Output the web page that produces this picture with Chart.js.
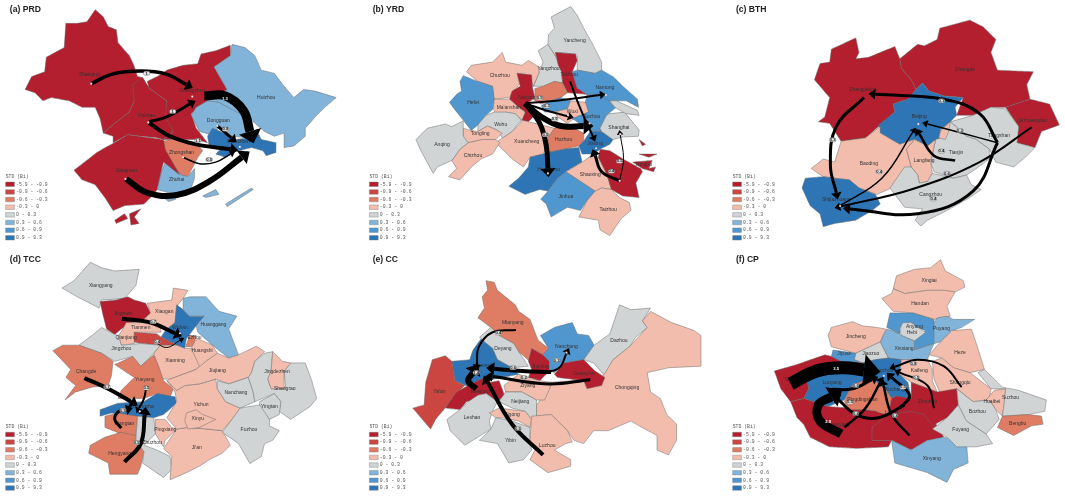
<!DOCTYPE html>
<html>
<head>
<meta charset="utf-8">
<script src="https://cdn.jsdelivr.net/npm/chart.js@4"></script>
<style>
html, body { margin: 0; padding: 0; background: #fff; overflow: hidden; }
#page { position: relative; width: 1065px; height: 496px; }
canvas { position: absolute; }
</style>
</head>
<body>
<div id="page"></div>
<script>
// class colours, low to high STD
const binColors = ["#b31f2e", "#cb4640", "#de7d63", "#f3bdae", "#d0d4d4", "#82b3d8", "#5197cf", "#2e75b6"];
const binLabels = ["-5.9 - -0.9", "-0.9 - -0.6", "-0.6 - -0.3", "-0.3 - 0", "0 - 0.3", "0.3 - 0.6", "0.6 - 0.9", "0.9 - 9.3"];

// (a) PRD
const prdBins = [0, 0, 0, 5, 5, 7, 2, 5, 5, 0, 0, 0, 5, 5];
const prdShapes = [
  [280,18,305,40,320,70,345,80,350,120,385,160,398,188,410,225,425,228,445,260,400,300,385,335,340,370,305,400,295,355,280,320,240,320,200,300,145,290,120,300,95,275,65,265,85,225,125,210,130,165,185,135,190,60,225,60,255,55],
  [425,228,395,250,400,300,385,335,340,370,305,400,335,410,335,430,380,405,420,410,470,415,490,420,520,395,500,350,500,300,445,260],
  [695,128,695,160,645,195,685,265,625,300,575,340,590,385,625,430,590,420,490,420,520,395,495,350,500,300,445,260,440,240,470,225,500,205,550,190,595,185,605,155,650,145],
  [700,125,740,135,770,160,790,205,830,215,860,255,890,290,920,265,955,270,1020,290,985,320,960,345,925,385,925,410,890,440,860,445,860,400,830,410,800,395,760,360,745,350,700,335,660,305,625,300,685,265,645,195,695,160],
  [625,300,660,305,705,330,745,350,760,380,770,410,745,415,700,410,660,385,635,405,600,395,575,345,590,320],
  [640,385,665,395,690,410,710,420,750,415,780,400,790,420,835,430,835,460,805,470,795,455,760,445,700,460,680,475,650,465,670,445,630,440,625,410],
  [490,425,530,415,590,430,610,455,595,475,565,535,540,530,510,480,490,450],
  [495,490,520,500,545,530,565,535,585,510,585,540,575,570,525,590,470,575,480,530],
  [490,600,525,595,528,605,505,612],
  [335,432,380,405,490,420,495,450,540,530,490,490,480,530,470,575,460,590,430,620,370,625,335,640,310,600,280,560,240,545,215,515,260,480,285,460,320,440],
  [340,670,370,650,380,665,345,680],
  [385,650,420,635,400,660,415,680,390,685],
  [610,595,650,575,660,590,620,600],
  [680,620,760,570,765,575,685,628]
];
const prdNames = ["Zhaoqing", "Guangzhou", "Foshan", "Dongguan", "Shenzhen", "Zhongshan", "Zhuhai", "Jiangmen", "Huizhou"];
const prdNameX = [262, 578, 438, 658, 720, 545, 530, 375, 805];
const prdNameY = [220, 268, 345, 360, 428, 460, 545, 515, 290];
const prdFlows = [
  [268,247,330,218,420,208,500,218,560,250],
  [615,285,680,285,735,330,755,395],
  [445,365,500,350,570,310],
  [445,368,510,410,590,435,695,450],
  [655,378,698,415],
  [550,475,600,495,650,490,695,465],
  [375,542,440,585,530,592,630,550,730,475]
];
const prdFlowSizes = [3.5, 9, 3, 4, 3, 1.5, 6];
const prdFlowText = ["1", "1.3", "1", "1.1", "0.8", "0.5"];
const prdFlowX = [438, 678, 518, 595, 680, 630];
const prdFlowY = [215, 295, 333, 423, 388, 482];
const prdDots = [268,247,578,287,443,367,655,378,724,443,550,475,373,542];

// (b) YRD
const yrdBins = [4, 4, 0, 6, 3, 6, 0, 2, 3, 6, 3, 6, 3, 4, 3, 3, 4, 2, 7, 7, 4, 3, 0, 6, 3, 0, 0, 0, 4];
const yrdShapes = [
  [650,8,670,35,690,75,715,120,745,180,745,205,725,215,670,205,670,160,665,155,605,150,605,165,580,125,582,95,600,75,590,40],
  [580,125,605,165,622,210,625,245,600,240,565,255,535,255,552,215,565,180,550,145],
  [603,150,665,155,670,175,655,210,670,260,700,280,640,275,625,245,622,210,612,190],
  [670,205,725,215,745,205,780,225,810,255,855,295,858,320,820,300,780,300,760,305,740,280,700,280,670,260,655,210],
  [440,150,450,180,500,190,520,175,552,195,552,215,535,255,510,215,485,215,495,245,460,290,415,295,410,255,365,240,330,210,345,190,410,180],
  [320,222,365,240,410,255,415,295,412,325,390,345,365,375,345,392,320,360,300,335,278,305,300,280,315,270,310,240],
  [485,215,530,220,533,260,540,290,515,310,535,325,540,345,520,365,500,360,510,335,490,320,462,295,470,270,495,255],
  [540,262,565,255,600,240,625,245,640,275,620,290,590,300,560,310,540,300],
  [415,295,462,295,490,320,510,335,500,360,480,340,450,335,425,350,412,325],
  [590,300,620,290,650,300,640,325,600,335,570,335,560,315],
  [650,300,700,305,705,335,660,355,640,370,610,350,600,335,640,325],
  [700,280,740,280,790,320,760,345,740,385,745,395,710,395,690,380,655,355,705,335,695,305],
  [500,360,520,365,560,375,600,385,580,415,580,440,565,465,525,475,505,505,470,480,450,460,420,430,440,415,470,395,495,370],
  [415,335,450,335,480,340,498,360,470,395,440,415,425,390,395,378,365,395,365,375,390,345],
  [320,385,345,392,365,395,395,378,440,400,420,420,380,420,335,430,320,410],
  [335,430,380,420,420,420,432,430,410,465,375,480,345,505,310,545,275,535,300,510,285,485,310,450],
  [265,372,285,380,320,362,320,385,320,410,335,430,310,450,285,485,240,505,228,525,190,455,175,420,210,385],
  [600,385,640,375,690,400,690,425,675,440,630,450,580,460,580,415],
  [580,460,630,450,675,445,685,490,635,520,610,540,580,580,555,575,510,590,460,565,490,540,520,505,525,475,565,465],
  [710,395,745,395,780,420,770,435,740,450,720,465,685,465,675,440,690,425],
  [770,340,815,335,860,390,858,410,810,412,780,420,745,395,740,385,760,345],
  [720,465,735,475,760,525,775,575,745,570,725,580,680,550,635,520,685,490],
  [740,450,770,455,810,480,865,510,870,520,850,555,860,600,810,595,775,575,760,525,735,475],
  [610,540,635,520,680,550,725,580,700,610,680,640,640,630,590,660,575,620,558,605,580,580],
  [725,580,745,570,775,575,800,600,830,615,835,640,805,665,770,718,740,700,735,670,675,660,700,610],
  [840,490,900,485,890,510,910,505,905,520,870,510],
  [860,465,915,465,890,475],
  [860,420,880,435,870,440],
  [770,300,790,300,855,330,860,345,820,340,785,320]
];
const yrdNames = ["Yancheng", "Yangzhou", "Taizhou", "Nantong", "Chuzhou", "Hefei", "Nanjing", "Ma'anshan", "Wuxi", "Suzhou", "Xuancheng", "Wuhu", "Tongling", "Chizhou", "Anqing", "Huzhou", "Hangzhou", "Jiaxing", "Shanghai", "Shaoxing", "Ningbo", "Jinhua", "Taizhou"];
const yrdNameX = [662, 582, 645, 755, 432, 350, 515, 460, 655, 715, 515, 435, 372, 350, 255, 628, 582, 725, 798, 710, 875, 635, 765];
const yrdNameY = [115, 200, 218, 260, 222, 306, 289, 320, 332, 350, 425, 373, 403, 470, 437, 420, 512, 433, 383, 530, 497, 598, 637];
const yrdFlows = [
  [510,308,620,298,740,282],
  [510,308,575,330,642,348],
  [510,308,560,350,620,378,690,378],
  [510,308,555,370,575,440,580,510],
  [648,240,680,325,718,410],
  [800,548,745,520,725,470],
  [800,548,812,480,802,405]
];
const yrdFlowSizes = [2, 2, 6, 5, 2, 3, 1];
const yrdFlowText = ["0.5", "0.3", "0.9", "0.5", "0.4", "0.5"];
const yrdFlowX = [555, 577, 601, 572, 775, 800];
const yrdFlowY = [291, 316, 357, 405, 518, 487];
const yrdDots = [758,282,642,345,708,370,580,525,728,447,802,403,800,548];

// (c) BTH
const bthBins = [0, 0, 0, 4, 7, 4, 3, 3, 3, 4, 7];
const bthShapes = [
  [555,170,610,125,630,130,670,110,678,75,770,50,810,70,850,110,835,150,855,205,965,210,945,250,955,295,880,320,835,320,780,345,730,345,750,290,690,285,645,270,625,245,605,265,590,235,560,200],
  [345,140,420,105,430,150,420,170,460,165,540,132,555,170,560,200,590,235,605,265,580,295,535,310,540,335,495,375,450,415,375,425,340,370,305,365,325,350,340,290,293,235,310,185,340,180],
  [880,320,955,295,1015,310,1045,375,990,395,970,445,915,430,920,380],
  [835,320,880,325,920,380,915,430,970,445,940,475,905,505,850,490,830,450,790,420,760,410,730,380,710,365,780,345],
  [625,245,645,270,690,285,750,290,725,320,730,345,710,365,680,390,675,420,640,440,600,420,555,435,495,400,490,375,540,335,535,310,580,295,605,265],
  [710,365,760,410,790,420,830,450,830,480,790,510,760,530,720,540,660,520,650,490,665,420,680,415,680,390],
  [680,395,710,365,705,395,695,420,675,415],
  [600,420,640,440,665,420,650,490,655,525,640,550,615,555,610,530,590,505,575,450],
  [495,380,495,400,555,435,600,420,575,450,590,505,570,510,530,570,485,590,430,570,400,545,355,540,320,535,283,510,320,480,355,490,375,425,450,415],
  [570,505,590,505,610,530,615,555,640,550,655,525,720,540,760,530,775,560,805,575,770,600,700,640,640,670,620,688,602,670,625,635,570,630,525,570],
  [320,535,355,540,400,545,430,570,480,590,495,620,470,640,420,670,355,680,320,690,310,650,280,625,255,570,265,540]
];
const bthNames = ["Chengde", "Zhangjiakou", "Qinhuangdao", "Tangshan", "Beijing", "Tianjin", "Langfang", "Baoding", "Cangzhou", "Shijiazhuang"];
const bthNameX = [755, 442, 962, 860, 615, 728, 630, 460, 650, 360];
const bthNameY = [204, 265, 362, 409, 350, 462, 485, 495, 590, 605];
const bthFlows = [
  [855,430,800,340,690,295,480,280],
  [855,430,745,400,640,372],
  [725,485,660,470,615,403],
  [855,430,780,580,610,650,402,635],
  [960,382,800,490,590,575,372,628],
  [445,290,360,380,342,500,360,585],
  [372,625,500,540,595,397]
];
const bthFlowSizes = [3, 1.5, 2.5, 3, 2, 3, 1.5];
const bthFlowText = ["0.1", "0.3", "0.4", "0.6", "0.4", "0.3", "0.4"];
const bthFlowX = [683, 740, 683, 700, 658, 349, 492];
const bthFlowY = [300, 392, 456, 525, 604, 421, 520];
const bthDots = [612,372,372,626];

// (d) TCC
const tccBins = [4, 0, 3, 7, 5, 3, 1, 2, 3, 4, 3, 2, 2, 7, 2, 2, 4, 3, 3, 3, 3, 3, 4, 4, 3, 4, 4];
const tccShapes = [
  [265,38,300,55,340,65,415,60,405,110,370,150,300,155,292,180,225,145,178,118,215,95],
  [295,160,345,155,380,145,400,155,435,165,450,195,420,225,390,225,360,245,340,262,315,245,305,205],
  [520,118,565,125,550,150,530,175,525,225,495,250,480,235,450,235,420,225,450,195,440,165,515,155],
  [530,170,550,185,570,205,615,205,590,235,560,275,555,305,530,295,482,270,495,250,525,225],
  [550,150,570,145,620,145,660,190,715,205,690,245,720,325,690,335,640,295,595,255,590,235,615,205,570,205,550,185],
  [375,225,420,225,480,235,482,255,400,255,400,290,360,295,352,265,365,245],
  [400,255,470,260,482,270,530,295,480,295,420,290,400,285],
  [570,265,590,265,585,290,575,300,558,300],
  [585,285,595,275,640,295,655,320,620,345,600,365,560,325,575,305],
  [300,240,340,262,352,265,360,295,420,290,480,295,460,320,420,360,395,330,340,345,300,320,230,295,270,265],
  [480,295,530,295,555,305,575,305,600,360,590,370,510,400,485,400,465,340,460,320],
  [180,295,230,295,300,320,335,345,330,390,320,420,270,425,220,440,187,465,220,420,190,395,205,370,150,312],
  [395,330,420,360,460,325,475,360,490,405,520,430,510,455,470,445,430,460,350,460,360,435,400,395,340,355],
  [470,445,525,455,530,475,490,510,460,520,410,515,380,515,330,505,295,515,295,495,350,475,430,470],
  [310,515,350,505,410,515,405,575,360,570,310,550],
  [310,580,360,565,405,575,415,605,430,625,420,670,410,695,325,695,320,660,260,630,265,605],
  [410,515,460,520,465,570,430,605,470,620,510,640,515,680,490,705,425,660,430,625,405,590],
  [465,525,495,525,515,550,530,555,495,590,490,610,465,570],
  [530,555,565,550,625,555,670,560,695,605,670,630,630,650,600,670,560,690,510,712,515,640,490,615,520,570],
  [500,405,530,435,555,420,600,415,650,400,655,430,680,470,725,490,700,525,670,560,625,555,565,550,530,555,500,520,530,470,525,440],
  [560,505,590,495,610,510,650,525,600,550,565,555,555,530],
  [590,370,620,345,655,320,690,335,720,325,775,298,800,315,770,345,760,380,750,395,690,415,650,400,600,415,555,420,530,435,500,405,510,400],
  [655,405,690,415,750,395,765,440,770,470,725,490,680,470,655,430],
  [880,350,925,350,945,405,960,460,940,485,880,525,845,500,850,470,830,445,770,470,765,440,750,395,760,380,770,345,800,320,825,315,820,375,810,400,820,430,865,430,860,375],
  [825,315,855,345,880,350,860,375,860,420,865,430,820,430,810,400,820,375],
  [785,470,830,445,850,470,845,510,815,525,785,490],
  [725,490,785,480,815,525,815,545,845,560,825,590,800,600,790,640,755,662,720,600,670,565,700,525]
];
const tccNames = ["Xiangyang", "Jingmen", "Xiaogan", "Wuhan", "Huanggang", "Tianmen", "Qianjiang", "Ezhou", "Huangshi", "Jingzhou", "Xianning", "Changde", "Yueyang", "Changsha", "Xiangtan", "Hengyang", "Zhuzhou", "Pingxiang", "Ji'an", "Yichun", "Xinyu", "Jiujiang", "Nanchang", "Jingdezhen", "Shangrao", "Yingtan", "Fuzhou"];
const tccNameX = [297, 365, 492, 540, 643, 420, 375, 585, 608, 360, 525, 252, 432, 425, 370, 355, 455, 495, 592, 605, 595, 655, 712, 838, 862, 815, 752];
const tccNameY = [110, 197, 190, 242, 232, 241, 272, 272, 313, 305, 344, 378, 401, 485, 537, 632, 598, 558, 613, 478, 524, 375, 443, 376, 430, 486, 558];
const tccFlows = [
  [362,213,450,225,525,258],
  [462,285,500,302,540,280],
  [247,397,320,430,390,470],
  [437,422,430,460,415,490],
  [360,552,340,525,352,500,375,495],
  [370,657,420,600,432,510]
];
const tccFlowSizes = [4, 1, 4, 2, 3, 4];
const tccFlowText = ["0.7", "0.4", "0.7", "0.5", "0.5", "0.5"];
const tccFlowX = [458, 470, 316, 437, 365, 407];
const tccFlowY = [222, 284, 424, 428, 497, 597];
const tccDots = [540,258,417,500];

// (e) CC
const ccBins = [2, 4, 7, 0, 6, 4, 3, 0, 3, 1, 0, 4, 4, 3, 4, 3];
const ccShapes = [
  [390,95,415,100,425,125,480,170,490,190,525,215,550,280,582,305,565,325,530,305,525,345,490,315,475,290,430,265,405,240,365,210,385,180,378,145,395,125],
  [405,240,430,265,475,290,490,315,520,360,470,365,425,340,410,305,385,285,370,270],
  [375,275,385,285,410,305,425,340,470,365,490,385,440,395,390,405,355,410,340,425,295,405,285,345,340,340,350,310],
  [530,305,565,325,585,345,585,375,555,405,520,395,530,370,520,345],
  [557,265,600,240,655,225,670,260,705,265,722,295,690,340,630,350,600,380,585,375,585,345,565,325,582,305],
  [800,170,835,185,895,180,870,220,885,240,850,270,830,300,780,340,755,390,720,350,690,340,722,295,770,260],
  [895,190,960,225,1030,250,1050,265,1050,360,950,365,885,380,895,440,925,460,945,510,975,540,975,590,950,635,915,620,915,575,860,545,835,530,765,560,720,560,690,600,660,590,640,560,590,510,545,515,545,480,585,430,590,410,650,405,700,395,750,390,780,340,830,300,885,240,870,220],
  [630,350,690,340,725,375,755,395,745,420,700,430,690,405,610,395,600,385],
  [445,420,490,385,520,395,555,405,590,410,585,430,570,465,545,465,500,440,450,440],
  [225,340,265,328,285,345,295,405,325,420,300,445,280,470,260,495,235,525,220,555,165,490,200,480,205,410],
  [385,395,405,410,430,405,447,450,425,470,390,445,365,460,330,470,310,495,265,490,300,440,335,420,355,410],
  [365,450,390,445,425,470,412,495,400,530,405,555,365,580,325,605,280,560,270,525,310,495,335,470],
  [450,440,500,440,545,465,545,515,530,525,510,500,470,490,430,470],
  [400,505,430,490,470,495,510,500,530,525,525,550,490,530,440,520,420,520],
  [420,520,470,530,525,550,525,590,530,620,505,650,460,660,425,600,370,590,405,555],
  [530,515,590,510,640,560,655,595,635,600,600,620,650,650,650,670,580,690,525,650,540,620,525,590]
];
const ccNames = ["Mianyang", "Deyang", "Chengdu", "Suining", "Nanchong", "Dazhou", "Chongqing", "Guang'an", "Ziyang", "Ya'an", "Meishan", "Leshan", "Neijiang", "Zigong", "Yibin", "Luzhou"];
const ccNameX = [472, 442, 385, 557, 637, 798, 823, 690, 518, 247, 372, 347, 495, 470, 465, 578];
const ccNameY = [226, 306, 358, 360, 298, 280, 425, 384, 421, 440, 440, 518, 471, 510, 590, 605];
const ccFlows = [
  [482,248,410,255,368,300,362,355],
  [590,378,500,375,415,368],
  [570,380,615,365,637,320],
  [710,402,580,415,410,392],
  [565,635,470,540,395,410],
  [360,430,335,405,350,380]
];
const ccFlowSizes = [2, 4, 2, 3, 4, 6];
const ccFlowText = ["0.4", "0.6", "0.3", "0.2", "0.5", "1.4"];
const ccFlowX = [428, 473, 607, 506, 488, 360];
const ccFlowY = [257, 365, 342, 395, 553, 380];
const ccDots = [365,378,637,318];

// (f) CP
const cpBins = [3, 3, 6, 4, 5, 5, 3, 4, 6, 7, 3, 3, 3, 7, 0, 0, 2, 0, 0, 7, 5, 4, 4, 3, 4, 2];
const cpShapes = [
  [680,30,695,65,750,95,755,115,725,130,690,125,640,125,570,135,535,120,545,80,600,60,650,55],
  [535,120,570,135,640,125,690,125,725,130,700,175,710,205,660,215,595,195,535,190,500,150,530,135],
  [525,195,595,195,660,215,660,290,600,310,600,270,635,250,610,240,590,225,560,230,555,260,515,240],
  [565,225,590,225,610,240,635,255,600,282,560,265,555,245],
  [670,210,700,205,720,215,785,215,745,240,715,250,680,285,660,290,660,225],
  [515,245,555,260,560,265,600,282,600,310,660,290,645,325,640,340,560,340,520,335,495,285],
  [345,240,410,222,440,235,485,240,512,245,495,285,420,320,345,300,335,265],
  [420,320,495,285,520,335,480,340,440,350,415,340],
  [350,310,420,320,415,340,440,350,375,345,345,330],
  [480,340,520,335,560,340,555,385,580,410,590,460,560,445,530,460,510,430,490,415,470,395,430,375,440,350],
  [560,340,640,340,655,370,655,405,670,440,590,410,555,385],
  [645,325,680,285,715,250,775,245,790,290,815,370,770,380,720,365,685,335],
  [655,345,685,335,720,365,770,380,835,430,830,465,780,470,730,430,680,445,660,400],
  [270,395,345,370,430,375,470,395,430,410,405,425,385,465,335,485,260,460,275,430],
  [170,375,240,355,325,325,345,330,375,345,440,350,430,375,345,370,270,395,275,430,260,460,220,470,190,430],
  [220,470,260,460,335,485,400,490,495,500,520,515,470,550,470,590,530,590,520,610,420,615,340,610,280,580,260,540,240,520],
  [405,425,430,410,470,395,490,415,510,430,530,460,520,510,495,505,470,495,400,495,385,470],
  [470,550,520,510,590,490,655,520,690,580,640,590,590,620,530,590,470,590],
  [590,410,670,440,730,430,735,480,700,520,655,545,630,510,590,500,520,510,530,460,560,445,590,460],
  [505,420,575,420,590,460,530,450],
  [530,590,590,620,640,590,690,580,760,600,765,660,720,680,700,720,640,690,590,675,540,660],
  [655,555,700,520,735,480,760,530,820,570,840,600,790,610,730,610,700,580],
  [730,430,780,470,830,465,850,495,860,525,820,570,760,530,735,480],
  [820,465,845,435,880,430,875,480,870,515,850,495,835,470],
  [795,380,815,370,870,425,920,435,1005,465,1000,500,950,510,870,515,875,480,880,430,835,430],
  [870,515,950,510,990,515,995,540,960,545,905,575,855,550]
];
const cpNames = ["Xingtai", "Handan", "Anyang", "Hebi", "Puyang", "Xinxiang", "Jincheng", "Jiaozuo", "Jiyuan", "Zhengzhou", "Kaifeng", "Heze", "Shangqiu", "Luoyang", "Sanmenxia", "Nanyang", "Pingdingshan", "Luohe", "Zhoukou", "Xuchang", "Xinyang", "Fuyang", "Bozhou", "Huaibei", "Suzhou", "Bengbu"];
const cpNameX = [645, 617, 600, 592, 683, 568, 420, 466, 385, 497, 615, 740, 740, 347, 240, 372, 440, 530, 640, 540, 653, 742, 793, 838, 895, 917];
const cpNameY = [95, 166, 238, 255, 245, 305, 268, 320, 322, 373, 375, 317, 410, 410, 402, 540, 463, 505, 470, 432, 648, 557, 502, 470, 456, 537];
const cpFlows = [
  [220,415,300,375,380,365,445,372],
  [375,570,310,530,305,480,345,455],
  [345,432,410,430,470,402],
  [570,480,490,520,420,510,365,462],
  [385,550,450,490,495,410],
  [585,575,530,510,505,420],
  [555,490,585,450,530,395],
  [660,490,640,420,555,380],
  [745,425,690,360,610,340,540,362]
];
const cpFlowSizes = [13, 9, 3, 3, 2.5, 2.5, 3, 2, 2];
const cpFlowText = ["3.5", "2.9", "0.6", "0.4", "0.5", "0.4", "0.5", "0.5", "0.8"];
const cpFlowX = [360, 335, 420, 420, 402, 540, 565, 605, 597];
const cpFlowY = [367, 532, 420, 507, 472, 513, 425, 395, 352];
const cpDots = [506,390];

const panels = [
  { left: 0, top: 0, title: "(a) PRD", titleX: 18, titleY: 18, legX: 5, legY: 535, bins: prdBins, shapes: prdShapes, names: prdNames, nameX: prdNameX, nameY: prdNameY, flows: prdFlows, sizes: prdFlowSizes, fText: prdFlowText, fX: prdFlowX, fY: prdFlowY, dots: prdDots },
  { left: 355, top: 0, title: "(b) YRD", titleX: 42, titleY: 16, legX: 32, legY: 535, bins: yrdBins, shapes: yrdShapes, names: yrdNames, nameX: yrdNameX, nameY: yrdNameY, flows: yrdFlows, sizes: yrdFlowSizes, fText: yrdFlowText, fX: yrdFlowX, fY: yrdFlowY, dots: yrdDots },
  { left: 715, top: 0, title: "(c) BTH", titleX: 52, titleY: 16, legX: 42, legY: 535, bins: bthBins, shapes: bthShapes, names: bthNames, nameX: bthNameX, nameY: bthNameY, flows: bthFlows, sizes: bthFlowSizes, fText: bthFlowText, fX: bthFlowX, fY: bthFlowY, dots: bthDots },
  { left: 0, top: 246, title: "(d) TCC", titleX: 18, titleY: 30, legX: 5, legY: 548, bins: tccBins, shapes: tccShapes, names: tccNames, nameX: tccNameX, nameY: tccNameY, flows: tccFlows, sizes: tccFlowSizes, fText: tccFlowText, fX: tccFlowX, fY: tccFlowY, dots: tccDots },
  { left: 355, top: 246, title: "(e) CC", titleX: 42, titleY: 30, legX: 32, legY: 548, bins: ccBins, shapes: ccShapes, names: ccNames, nameX: ccNameX, nameY: ccNameY, flows: ccFlows, sizes: ccFlowSizes, fText: ccFlowText, fX: ccFlowX, fY: ccFlowY, dots: ccDots },
  { left: 715, top: 246, title: "(f) CP", titleX: 52, titleY: 30, legX: 42, legY: 548, bins: cpBins, shapes: cpShapes, names: cpNames, nameX: cpNameX, nameY: cpNameY, flows: cpFlows, sizes: cpFlowSizes, fText: cpFlowText, fX: cpFlowX, fY: cpFlowY, dots: cpDots }
];

function toPoints(flat) {
  const pts = [];
  for (let i = 0; i < flat.length; i += 2) pts.push({ x: flat[i], y: flat[i + 1] });
  return pts;
}

// tiny tension keeps chart.js off its fast line path, which merges points per pixel column
function polygon(pts, color, edge, width) {
  return {
    data: pts.concat([pts[0]]),
    showLine: true,
    fill: "shape",
    backgroundColor: color,
    borderColor: edge,
    borderWidth: width,
    pointRadius: 0,
    tension: 0.001
  };
}

// triangle on the end of a flow line, 3 map units to a pixel
function arrowHead(pts, size) {
  const a = pts[pts.length - 2], b = pts[pts.length - 1];
  const d = Math.hypot(b.x - a.x, b.y - a.y);
  const ux = (b.x - a.x) / d, uy = (b.y - a.y) / d;
  const half = size * 3.2 + 7, len = size * 3 + 12;
  return [
    { x: b.x - uy * half, y: b.y + ux * half },
    { x: b.x + ux * len, y: b.y + uy * len },
    { x: b.x + uy * half, y: b.y - ux * half }
  ];
}

const mapText = {
  id: "mapText",
  // region names sit under the flow arrows
  afterDatasetDraw(chart, args, opts) {
    if (args.index !== opts.firstRegion) return;
    const ctx = chart.ctx, xs = chart.scales.x, ys = chart.scales.y, p = opts.panel;
    ctx.save();
    ctx.font = "5px 'Liberation Sans'";
    ctx.fillStyle = "#333";
    ctx.textAlign = "center";
    ctx.textBaseline = "middle";
    p.names.forEach((n, i) => ctx.fillText(n, xs.getPixelForValue(p.nameX[i]), ys.getPixelForValue(p.nameY[i])));
    ctx.restore();
  },
  afterDraw(chart, args, opts) {
    const ctx = chart.ctx, xs = chart.scales.x, ys = chart.scales.y, p = opts.panel;
    ctx.save();
    ctx.textBaseline = "middle";
    ctx.textAlign = "center";
    p.fText.forEach((t, i) => {
      const x = xs.getPixelForValue(p.fX[i]), y = ys.getPixelForValue(p.fY[i]);
      const big = p.sizes[i] > 8;
      if (!big) {
        ctx.fillStyle = "#e4e4e4";
        ctx.strokeStyle = "#555";
        ctx.lineWidth = 0.4;
        ctx.beginPath();
        ctx.roundRect(x - 3.2, y - 2, 6.4, 4, 1.5);
        ctx.fill();
        ctx.stroke();
      }
      ctx.fillStyle = big ? "#fff" : "#222";
      ctx.font = "bold 4.2px 'Liberation Sans'";
      ctx.fillText(t, x, y);
    });
    ctx.textAlign = "left";
    ctx.fillStyle = "#222";
    ctx.font = "bold 8.6px 'Liberation Sans'";
    ctx.fillText(p.title, xs.getPixelForValue(p.titleX), ys.getPixelForValue(p.titleY));
    ctx.fillStyle = "#555";
    ctx.font = "4.8px 'Liberation Mono'";
    ctx.fillText("STD (Bi)", xs.getPixelForValue(p.legX), ys.getPixelForValue(p.legY));
    binLabels.forEach((t, i) => {
      ctx.fillText(t, xs.getPixelForValue(p.legX + 32), ys.getPixelForValue(p.legY + 23.7 * (i + 1)));
    });
    ctx.restore();
  }
};

panels.forEach(function (p) {
  const cv = document.createElement("canvas");
  cv.width = 350;
  cv.height = 250;
  cv.style.left = p.left + "px";
  cv.style.top = p.top + "px";
  document.getElementById("page").appendChild(cv);

  // chart.js paints the last dataset first, so top layers go in front
  const datasets = [];
  datasets.push({ data: toPoints(p.dots), pointRadius: 1.1, pointBackgroundColor: "#f6d5dc", pointBorderWidth: 0, showLine: false });
  p.flows.forEach((f, i) => {
    const pts = toPoints(f);
    datasets.push(polygon(arrowHead(pts, p.sizes[i]), "#000", "#000", 0));
    datasets.push({ data: pts, showLine: true, borderColor: "#000", borderWidth: p.sizes[i], pointRadius: 0, tension: 0.4, fill: false });
  });
  const firstRegion = datasets.length;
  const under = [];
  p.shapes.forEach((s, i) => under.push(polygon(toPoints(s), binColors[p.bins[i]], "#6a6a6a", 0.5)));
  // legend swatches
  binColors.forEach((c, i) => {
    const y = p.legY + 23.7 * (i + 1), x = p.legX;
    under.push(polygon(toPoints([x, y - 7, x + 27, y - 7, x + 27, y + 7, x, y + 7]), c, "#777", 0.4));
  });
  under.reverse();
  new Chart(cv, {
    type: "scatter",
    data: { datasets: datasets.concat(under) },
    plugins: [mapText],
    options: {
      responsive: false,
      animation: false,
      layout: { padding: 0 },
      clip: false,
      scales: {
        x: { display: false, min: 0, max: 1050 },
        y: { display: false, min: 0, max: 750, reverse: true }
      },
      plugins: {
        legend: { display: false },
        tooltip: { enabled: false },
        mapText: { panel: p, firstRegion: firstRegion }
      }
    }
  });
});
</script>
</body>
</html>
